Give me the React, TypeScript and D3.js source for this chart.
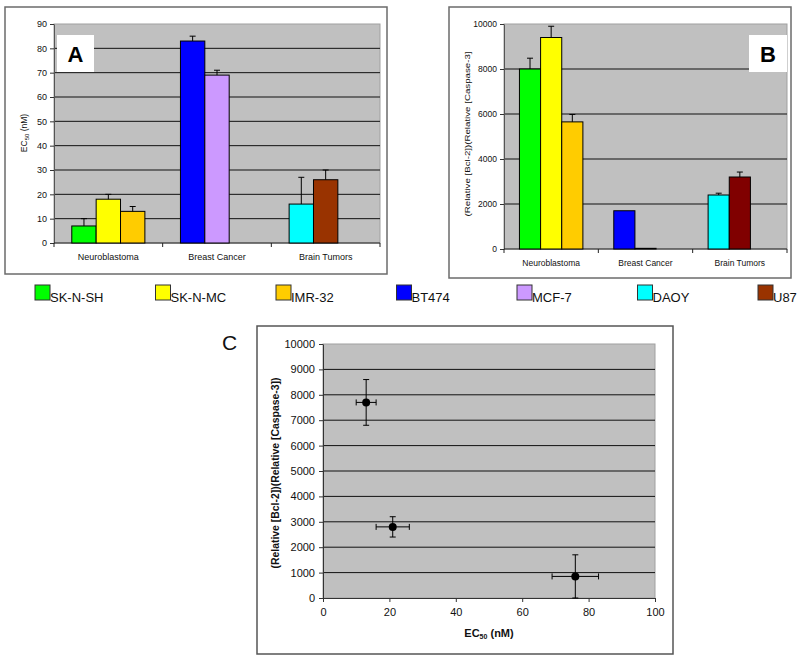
import React, { useRef, useEffect } from 'react';
import * as d3 from 'd3';

// Data
const categories = ['Neuroblastoma', 'Breast Cancer', 'Brain Tumors'];
const cellLines = ['SK-N-SH', 'SK-N-MC', 'IMR-32', 'BT474', 'MCF-7', 'DAOY', 'U87'];
const lineGroup = ['Neuroblastoma', 'Neuroblastoma', 'Neuroblastoma', 'Breast Cancer', 'Breast Cancer', 'Brain Tumors', 'Brain Tumors'];
const lineColors = ['#00ff00', '#ffff00', '#ffcc00', '#0000ff', '#cc99ff', '#00ffff', '#993300'];
const lineColorsB = ['#00ff00', '#ffff00', '#ffcc00', '#0000ff', '#cc99ff', '#00ffff', '#800000'];

const ec50 = [7, 18, 13, 83, 69, 16, 26];
const ec50Err = [3, 2, 2, 2, 2, 11, 4];
const ratio = [8000, 9400, 5650, 1700, 30, 2400, 3200];
const ratioErr = [480, 500, 330, 0, 0, 80, 220];
const ticksA = [0, 10, 20, 30, 40, 50, 60, 70, 80, 90];
const ticksB = [0, 2000, 4000, 6000, 8000, 10000];

const scatterEc50 = [13, 21, 76];
const scatterEc50Err = [3, 5, 7];
const scatterRatio = [7700, 2800, 850];
const scatterRatioErr = [900, 400, 850];
const ticksCx = [0, 20, 40, 60, 80, 100];
const ticksCy = [0, 1000, 2000, 3000, 4000, 5000, 6000, 7000, 8000, 9000, 10000];

const FONT = 'Liberation Sans, Arial, sans-serif';
const fmt = d3.format('d');

// slot of each cell line inside its cancer group
const lineSlot = lineGroup.map((g, i) => lineGroup.slice(0, i).filter(d => d === g).length);

function barPanel(svg: any, cfg: any) {
  const g = svg.append('g');
  const [fx, fy, fw, fh] = cfg.frame;
  g.append('rect')
    .attr('x', fx).attr('y', fy).attr('width', fw).attr('height', fh)
    .attr('fill', '#fff').attr('stroke', '#6b6b6b').attr('stroke-width', 1.5);

  const x0 = d3.scaleBand().domain(categories).range([cfg.left, cfg.right]);
  const x1 = d3.scaleBand<number>().domain([0, 1, 2]).range([0, x0.bandwidth()]).paddingOuter(0.73);
  const y = d3.scaleLinear().domain([0, cfg.max]).range([cfg.bottom, cfg.top]);

  // plot area
  g.append('rect')
    .attr('x', cfg.left).attr('y', cfg.top)
    .attr('width', cfg.right - cfg.left).attr('height', cfg.bottom - cfg.top)
    .attr('fill', '#c0c0c0').attr('stroke', '#a0a0a0');

  // grid lines
  g.append('g')
    .selectAll('line')
    .data(cfg.ticks.filter((t: number) => t > 0 && t < cfg.max))
    .enter()
    .append('line')
    .attr('x1', cfg.left).attr('x2', cfg.right)
    .attr('y1', (d: number) => y(d)).attr('y2', (d: number) => y(d))
    .attr('stroke', '#111').attr('stroke-width', 1);

  // left axis
  const ax = g.append('g')
    .attr('transform', `translate(${cfg.left},0)`)
    .call(d3.axisLeft(y).tickValues(cfg.ticks).tickFormat(fmt).tickSize(4).tickPadding(3).tickSizeOuter(0));
  ax.select('.domain').attr('stroke', '#555');
  ax.selectAll('line').attr('stroke', '#333');
  ax.selectAll('text').attr('font-family', FONT).attr('font-size', cfg.tickFont).attr('fill', '#111');

  // bottom axis with ticks between categories
  g.append('line')
    .attr('x1', cfg.left).attr('x2', cfg.right)
    .attr('y1', y(0)).attr('y2', y(0))
    .attr('stroke', '#222');
  g.append('g')
    .selectAll('line')
    .data([...categories.map(c => x0(c) as number), cfg.right])
    .enter()
    .append('line')
    .attr('x1', (d: number) => d).attr('x2', (d: number) => d)
    .attr('y1', y(0)).attr('y2', y(0) + 4)
    .attr('stroke', '#222');
  g.append('g')
    .selectAll('text')
    .data(categories)
    .enter()
    .append('text')
    .attr('x', (d: string) => (x0(d) as number) + x0.bandwidth() / 2)
    .attr('y', cfg.catY)
    .attr('text-anchor', 'middle')
    .attr('font-family', FONT).attr('font-size', cfg.catFont).attr('fill', '#111')
    .text((d: string) => d);

  // bars
  const idx = d3.range(cellLines.length);
  const bx = (i: number) => (x0(lineGroup[i]) as number) + (x1(lineSlot[i]) as number);
  g.append('g')
    .selectAll('rect')
    .data(idx)
    .enter()
    .append('rect')
    .attr('x', bx)
    .attr('y', (i: number) => y(cfg.values[i]))
    .attr('width', x1.bandwidth())
    .attr('height', (i: number) => y(0) - y(cfg.values[i]))
    .attr('fill', (i: number) => cfg.colors[i])
    .attr('stroke', '#000').attr('stroke-width', 1);

  // error bars (plus only)
  const eb = g.append('g').attr('stroke', '#000').attr('stroke-width', 1);
  idx.filter(i => cfg.errors[i] > 0).forEach(i => {
    const cx = bx(i) + x1.bandwidth() / 2;
    const top = y(cfg.values[i] + cfg.errors[i]);
    eb.append('line').attr('x1', cx).attr('x2', cx).attr('y1', y(cfg.values[i])).attr('y2', top);
    eb.append('line').attr('x1', cx - 3).attr('x2', cx + 3).attr('y1', top).attr('y2', top);
  });

  // panel letter
  const [lx, ly, lw, lh] = cfg.letterBox;
  g.append('rect').attr('x', lx).attr('y', ly).attr('width', lw).attr('height', lh).attr('fill', '#fff');
  g.append('text')
    .attr('x', lx + lw / 2).attr('y', ly + lh / 2 + 8)
    .attr('text-anchor', 'middle')
    .attr('font-family', FONT).attr('font-size', 22).attr('font-weight', 'bold')
    .text(cfg.letter);

  // y label
  const yl = g.append('text')
    .attr('transform', `translate(${cfg.yLabel[0]},${cfg.yLabel[1]}) rotate(-90)`)
    .attr('text-anchor', 'middle')
    .attr('font-family', FONT).attr('font-size', cfg.yLabelFont).attr('fill', '#111');
  if (cfg.yLabelLength) yl.attr('textLength', cfg.yLabelLength).attr('lengthAdjust', 'spacingAndGlyphs');
  cfg.yLabelParts.forEach((p: any) => {
    const t = yl.append('tspan').text(p.text);
    if (p.sub) t.attr('font-size', cfg.yLabelFont * 0.7).attr('dy', 2);
    if (p.after) t.attr('dy', -2);
  });
}

const App = () => {
  const svgRef = useRef<SVGSVGElement>(null);

  useEffect(() => {
    const svg = d3.select(svgRef.current).attr('width', 800).attr('height', 660);
    svg.selectAll('*').remove();

    // Panel A
    barPanel(svg, {
      frame: [5, 7, 382, 267],
      left: 54, right: 380, top: 24, bottom: 243,
      max: 90, ticks: ticksA, values: ec50, errors: ec50Err, colors: lineColors,
      tickFont: 9, catFont: 9, catY: 260,
      letter: 'A', letterBox: [57, 35, 37, 37],
      yLabel: [27, 133], yLabelFont: 8.5,
      yLabelParts: [{ text: 'EC' }, { text: '50', sub: true }, { text: ' (nM)', after: true }],
    });

    // Panel B
    barPanel(svg, {
      frame: [449, 7, 342, 271],
      left: 504, right: 787, top: 24, bottom: 249,
      max: 10000, ticks: ticksB, values: ratio, errors: ratioErr, colors: lineColorsB,
      tickFont: 8.5, catFont: 8.5, catY: 266,
      letter: 'B', letterBox: [749, 35, 38, 37],
      yLabel: [470, 134], yLabelFont: 8, yLabelLength: 165,
      yLabelParts: [{ text: '(Relative [Bcl-2])(Relative [Caspase-3]' }],
    });

    // Legend
    const lx = d3.scalePoint().domain(cellLines).range([35, 758]);
    const leg = svg.append('g');
    cellLines.forEach((c, i) => {
      const x = lx(c) as number;
      leg.append('rect').attr('x', x).attr('y', 285).attr('width', 15).attr('height', 15)
        .attr('fill', lineColors[i]).attr('stroke', '#333').attr('stroke-width', 1);
      leg.append('text').attr('x', x + 15).attr('y', 302)
        .attr('font-family', FONT).attr('font-size', 13).attr('fill', '#111')
        .text(c);
    });

    // Panel C
    const gc = svg.append('g');
    gc.append('rect').attr('x', 257).attr('y', 326).attr('width', 416).attr('height', 328)
      .attr('fill', '#fff').attr('stroke', '#555').attr('stroke-width', 1.5);
    gc.append('text').attr('x', 222).attr('y', 350)
      .attr('font-family', FONT).attr('font-size', 21).attr('fill', '#111').text('C');

    const x = d3.scaleLinear().domain([0, 100]).range([323, 655]);
    const y = d3.scaleLinear().domain([0, 10000]).range([598, 344]);

    gc.append('rect').attr('x', 323).attr('y', 344).attr('width', 332).attr('height', 254)
      .attr('fill', '#c0c0c0').attr('stroke', '#a0a0a0');
    gc.append('g')
      .selectAll('line')
      .data(ticksCy.filter(t => t > 0 && t < 10000))
      .enter()
      .append('line')
      .attr('x1', x(0)).attr('x2', x(100))
      .attr('y1', d => y(d)).attr('y2', d => y(d))
      .attr('stroke', '#111');

    const yAx = gc.append('g').attr('transform', `translate(${x(0)},0)`)
      .call(d3.axisLeft(y).tickValues(ticksCy).tickFormat(fmt).tickSize(4).tickPadding(4).tickSizeOuter(0));
    const xAx = gc.append('g').attr('transform', `translate(0,${y(0)})`)
      .call(d3.axisBottom(x).tickValues(ticksCx).tickFormat(fmt).tickSize(4).tickPadding(6).tickSizeOuter(0));
    [yAx, xAx].forEach(a => {
      a.select('.domain').attr('stroke', '#333');
      a.selectAll('line').attr('stroke', '#333');
      a.selectAll('text').attr('font-family', FONT).attr('font-size', 11).attr('fill', '#111');
    });

    gc.append('text').attr('x', 489).attr('y', 637).attr('text-anchor', 'middle')
      .attr('font-family', FONT).attr('font-size', 11).attr('font-weight', 'bold').attr('fill', '#111')
      .call((t: any) => {
        t.append('tspan').text('EC');
        t.append('tspan').text('50').attr('font-size', 7).attr('dy', 2);
        t.append('tspan').text(' (nM)').attr('dy', -2);
      });
    gc.append('text')
      .attr('transform', 'translate(279,473) rotate(-90)')
      .attr('text-anchor', 'middle')
      .attr('font-family', FONT).attr('font-size', 11).attr('font-weight', 'bold').attr('fill', '#111')
      .attr('textLength', 191).attr('lengthAdjust', 'spacingAndGlyphs')
      .text('(Relative [Bcl-2])(Relative [Caspase-3])');

    // points with x and y error bars
    const pts = gc.append('g').attr('stroke', '#000').attr('stroke-width', 1);
    scatterEc50.forEach((v, i) => {
      const cx = x(v), cy = y(scatterRatio[i]);
      const x1 = x(v - scatterEc50Err[i]), x2 = x(v + scatterEc50Err[i]);
      const y1 = y(scatterRatio[i] - scatterRatioErr[i]), y2 = y(scatterRatio[i] + scatterRatioErr[i]);
      pts.append('line').attr('x1', x1).attr('x2', x2).attr('y1', cy).attr('y2', cy);
      pts.append('line').attr('x1', x1).attr('x2', x1).attr('y1', cy - 3).attr('y2', cy + 3);
      pts.append('line').attr('x1', x2).attr('x2', x2).attr('y1', cy - 3).attr('y2', cy + 3);
      pts.append('line').attr('x1', cx).attr('x2', cx).attr('y1', y1).attr('y2', y2);
      pts.append('line').attr('x1', cx - 3).attr('x2', cx + 3).attr('y1', y1).attr('y2', y1);
      pts.append('line').attr('x1', cx - 3).attr('x2', cx + 3).attr('y1', y2).attr('y2', y2);
      pts.append('circle').attr('cx', cx).attr('cy', cy).attr('r', 4).attr('fill', '#000').attr('stroke', 'none');
    });
  }, []);

  return (
    <div style={{ position: 'absolute', left: 0, top: 0, width: '800px', height: '660px', background: '#fff' }}>
      <svg ref={svgRef}></svg>
    </div>
  );
};

export default App;
